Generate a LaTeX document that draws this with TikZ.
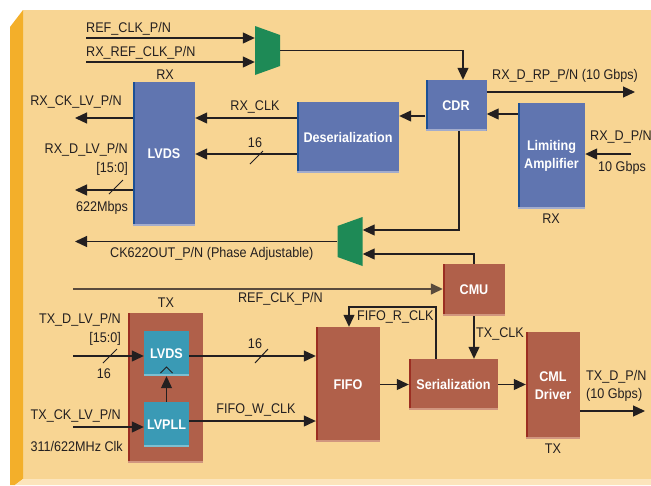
\documentclass[tikz,border=0pt]{standalone}
\usepackage{fontspec}
\setmainfont{Liberation Sans}[FakeStretch=0.9]
\usetikzlibrary{arrows.meta}
\definecolor{panel}{HTML}{F8D593}
\definecolor{goldstrip}{HTML}{F3AF2A}
\definecolor{paneledge}{HTML}{FCE5BC}
\definecolor{boxblue}{HTML}{6075B0}
\definecolor{edgeblue}{HTML}{1C5096}
\definecolor{shadeblue}{HTML}{A3ACCC}
\definecolor{boxbrown}{HTML}{B0604A}
\definecolor{edgebrown}{HTML}{9B2E22}
\definecolor{shadebrown}{HTML}{D1967F}
\definecolor{boxteal}{HTML}{3A9AB5}
\definecolor{shadeteal}{HTML}{7DBFD0}
\definecolor{muxgreen}{HTML}{1E8A56}
\definecolor{txtc}{HTML}{231F20}
\definecolor{refline}{HTML}{5A4B3C}
\tikzset{
  arr/.style={-{Triangle[length=12pt,width=11pt]},line width=1.2pt,txtc},
  lbl/.style={inner sep=0pt,text=txtc},
  sz/.style 2 args={minimum width=#1pt,minimum height=#2pt},
  box/.style n args={3}{inner sep=0pt,text=white,font=\fontsize{14}{17.5}\selectfont\bfseries,align=center,fill=#1,
    path picture={\fill[#2] (path picture bounding box.north west) rectangle ([xshift=2pt]path picture bounding box.south west);
      \fill[#3] ([yshift=2.5pt]path picture bounding box.south west) rectangle (path picture bounding box.south east);}},
  bluebox/.style={box={boxblue}{edgeblue}{shadeblue}},
  brownbox/.style={box={boxbrown}{edgebrown}{shadebrown}},
  tealbox/.style={box={boxteal}{boxteal}{shadeteal}},
  muxl/.style={sz={25}{49},inner sep=0pt,fill=panel,
    path picture={\fill[muxgreen] (path picture bounding box.north west) -- ([yshift=-9pt]path picture bounding box.north east) -- ([yshift=9pt]path picture bounding box.south east) -- (path picture bounding box.south west) -- cycle;}},
  muxr/.style={sz={25}{49},inner sep=0pt,fill=panel,
    path picture={\fill[muxgreen] ([yshift=-9pt]path picture bounding box.north west) -- (path picture bounding box.north east) -- (path picture bounding box.south east) -- ([yshift=9pt]path picture bounding box.south west) -- cycle;}}
}
\begin{document}
\begin{tikzpicture}[x=1pt,y=-1pt,font=\fontsize{14}{17.5}\selectfont]
  \useasboundingbox (0,0) rectangle (651,485);
  \fill[white] (0,0) rectangle (651,485);
  \fill[panel] (23,10) rectangle (651,479);
  \fill[goldstrip] (10,27) -- (23,10) -- (23,479) -- (15,485) -- (10,485) -- cycle;
  \fill[paneledge] (15,485) -- (23,479) -- (651,479) -- (651,485) -- cycle;

  \node[bluebox,sz={61}{51}] (cdr) at (456,105.5) {CDR};
  \node[bluebox,sz={67}{106}] (lamp) at (551.5,156) {Limiting\\Amplifier};
  \node[bluebox,sz={102}{71}] (deser) at (348,137.5) {Deserialization};
  \node[bluebox,sz={62}{144}] (lvdsr) at (164,154) {LVDS};
  \node[brownbox,sz={62}{52}] (cmu) at (474,290) {CMU};
  \node[brownbox,sz={89}{51}] (ser) at (453.5,384.5) {Serialization};
  \node[brownbox,sz={64}{115}] (fifo) at (348,384.5) {FIFO};
  \node[brownbox,sz={54}{107}] (cml) at (553,385.5) {CML\\Driver};
  \node[brownbox,sz={75}{150}] (txblk) at (165.5,388) {};
  \node[tealbox,sz={45}{45}] (lvdst) at (166.5,353.5) {LVDS};
  \node[tealbox,sz={45}{45}] (lvpll) at (166.5,424.5) {LVPLL};
  \node[muxl] (muxa) at (267.5,50.5) {};
  \node[muxr] (muxb) at (350,241.5) {};

  \coordinate (refin) at (86,38);
  \coordinate (rxrefin) at (86,62);
  \coordinate (rxout) at (635,92);
  \coordinate (rxdin) at (631,154);
  \coordinate (rxckout) at (75,118);
  \coordinate (rxdout) at (75,190);
  \coordinate (ckout) at (75,242);
  \coordinate (refb) at (73,289);
  \coordinate (txdin) at (73,356);
  \coordinate (txckin) at (73,427);
  \coordinate (txout) at (645,411);

  \draw[arr] (refin) -- (muxa.west |- refin);
  \draw[arr] (rxrefin) -- (muxa.west |- rxrefin);
  \draw[arr] (muxa.east) -| ([xshift=7pt]cdr.north);
  \draw[arr] (cdr.east |- rxout) -- (rxout);
  \draw[arr] (rxdin) -- (lamp.east |- rxdin);
  \draw[arr] (lamp.west |- 0,114) -- (cdr.east |- 0,114);
  \draw[arr] (cdr.west |- 0,116) -- (deser.east |- 0,116);
  \draw[arr] (deser.west |- 0,118) -- (lvdsr.east |- 0,118);
  \draw[arr] (deser.west |- 0,154) -- (lvdsr.east |- 0,154);
  \draw[arr] (lvdsr.west |- rxckout) -- (rxckout);
  \draw[arr] (lvdsr.west |- rxdout) -- (rxdout);
  \draw[arr] ([xshift=3pt]cdr.south) |- (muxb.east |- 0,230);
  \draw[arr] (cmu.north) |- (muxb.east |- 0,254);
  \draw[arr] (muxb.west) -- (muxb.west -| ckout);
  \draw[arr,refline,line width=1.5pt] (refb) -- (cmu.west |- refb);
  \draw[arr] (cmu.south) -- (cmu.south |- ser.north);
  \draw[arr] (ser.north -| 436,0) |- (349,307) -- (fifo.north -| 349,0);
  \draw[arr] (fifo.east) -- (ser.west);
  \draw[arr] (ser.east) -- (ser.east -| cml.west);
  \draw[arr] (cml.east |- txout) -- (txout);
  \draw[arr] (txdin) -- (lvdst.west |- txdin);
  \draw[arr] (lvdst.east |- 0,356) -- (fifo.west |- 0,356);
  \draw[arr] (lvpll.north) -- (lvdst.south);
  \draw[arr] (lvpll.east |- 0,421) -- (fifo.west |- 0,421);
  \draw[arr] (txckin) -- (lvpll.west |- txckin);
  \draw[line width=1pt,txtc] (160.5,373) -- (166.5,367) -- (172.5,373);

  \draw[line width=1pt,txtc] (250,164) -- ++(13,-13);
  \draw[line width=1pt,txtc] (109,194) -- ++(14,-14);
  \draw[line width=1pt,txtc] (103,363) -- ++(14,-14);
  \draw[line width=1pt,txtc] (255,363) -- ++(13,-14);

  \node[lbl,anchor=west] (t1) at (86,29) {REF\_CLK\_P/N};
  \node[lbl,anchor=west] (t2) at (86,53) {RX\_REF\_CLK\_P/N};
  \node[lbl] (t3) at (165,75) {RX};
  \node[lbl,anchor=east] (t4) at (122,102) {RX\_CK\_LV\_P/N};
  \node[lbl] (t5) at (255,107) {RX\_CLK};
  \node[lbl] (t6) at (255,143) {16};
  \node[lbl,anchor=east] (t7) at (128,150) {RX\_D\_LV\_P/N};
  \node[lbl,anchor=east] (t8) at (128,169) {[15:0]};
  \node[lbl] (t9) at (102,208) {622Mbps};
  \node[lbl,anchor=west] (t10) at (492,76) {RX\_D\_RP\_P/N (10 Gbps)};
  \node[lbl,anchor=west] (t11) at (590,137) {RX\_D\_P/N};
  \node[lbl,anchor=west] (t12) at (598,168) {10 Gbps};
  \node[lbl] (t13) at (551,219) {RX};
  \node[lbl,anchor=west] (t14) at (110,254) {CK622OUT\_P/N (Phase Adjustable)};
  \node[lbl,anchor=east] (t15) at (323,299) {REF\_CLK\_P/N};
  \node[lbl] (t16) at (166,303) {TX};
  \node[lbl,anchor=east] (t17) at (121,320) {TX\_D\_LV\_P/N};
  \node[lbl,anchor=east] (t18) at (121,339) {[15:0]};
  \node[lbl] (t19) at (104,374) {16};
  \node[lbl] (t20) at (255,344) {16};
  \node[lbl] (t21) at (256,410) {FIFO\_W\_CLK};
  \node[lbl,anchor=east] (t22) at (121,416) {TX\_CK\_LV\_P/N};
  \node[lbl,anchor=east] (t23) at (123,446) {311/622MHz Clk};
  \node[lbl,anchor=west] (t24) at (357,317) {FIFO\_R\_CLK};
  \node[lbl,anchor=west] (t25) at (476,334) {TX\_CLK};
  \node[lbl,anchor=west] (t26) at (586,377) {TX\_D\_P/N};
  \node[lbl,anchor=west] (t27) at (586,395) {(10 Gbps)};
  \node[lbl] (t28) at (553,449) {TX};
\end{tikzpicture}
\end{document}
